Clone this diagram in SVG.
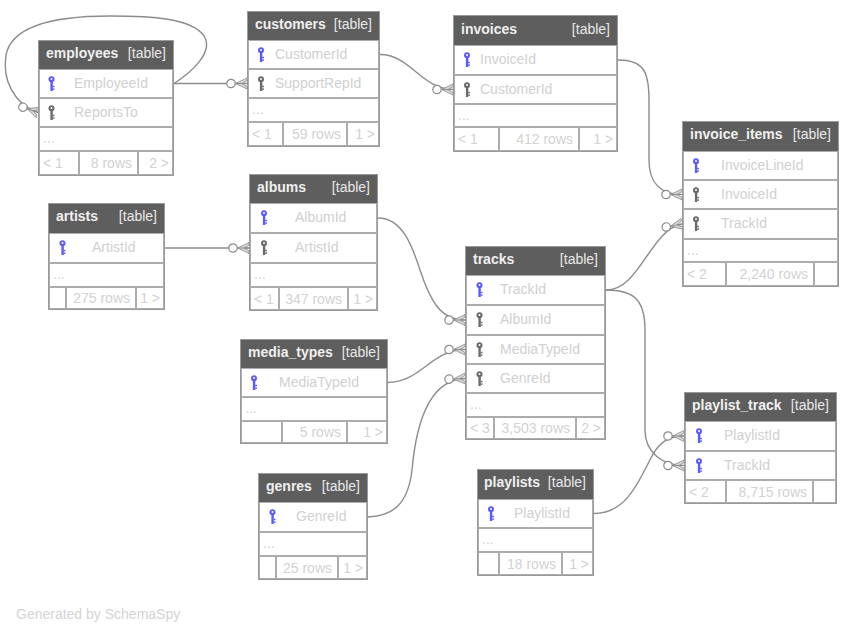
<svg xmlns="http://www.w3.org/2000/svg" xmlns:xlink="http://www.w3.org/1999/xlink" width="856" height="635" viewBox="0 0 856 635">
<style>
text{font-family:"Liberation Sans",Arial,Helvetica,sans-serif;font-size:14px}
.frame{fill:#fff;stroke:#9a9a9a;stroke-width:1}
.hdr{fill:#5e5e5e}
.cell{fill:none;stroke:#acacac;stroke-width:1}
.ttl{font-weight:bold;fill:#f0f0f0}
.tag{fill:#e8e8e8;text-anchor:end}
.fld{fill:#d0d0d0}
.ft{fill:#d2d2d2}
.end{text-anchor:end}
.pk{color:#5a5aff}
.fk{color:#6a6a6a}
.edge{fill:none;stroke:#8c8c8c;stroke-width:1.4}
.gen{fill:#d4d4d4}
</style>
<defs>
<g id="key">
<circle cx="0" cy="3.2" r="3" fill="currentColor"/>
<circle cx="0" cy="3" r="1" fill="#fff"/>
<rect x="-1.1" y="5.5" width="2.4" height="9.5" fill="currentColor"/>
<rect x="1.2" y="9.8" width="1.8" height="1.4" fill="currentColor"/>
<rect x="1.2" y="12.4" width="1.8" height="1.4" fill="currentColor"/>
</g>
<marker id="crow" markerUnits="userSpaceOnUse" orient="auto" refX="0" refY="0" markerWidth="30" markerHeight="16" overflow="visible">
<path d="M-11.5,0 L0,-5.5 L0,-3 L-5,0 L0,3 L0,5.5 Z" fill="#d6d6d6" stroke="#8c8c8c" stroke-width="0.8"/>
<path d="M-11.5,0 L0,0" stroke="#8c8c8c" stroke-width="1"/>
<circle cx="-16" cy="0" r="4.2" fill="#fff" stroke="#8c8c8c" stroke-width="1.2"/>
</marker>
</defs>
<rect width="856" height="635" fill="#fff"/>

<g id="connectors">
<path class="edge" marker-end="url(#crow)" d="M174,83.5 C192,72 214,52 204,36 C192,18 150,16 110,16 C60,16 12,24 6,55 C2,80 14,104 38,112.5"/>
<path class="edge" marker-end="url(#crow)" d="M174,83.5 L247,83.5"/>
<path class="edge" marker-end="url(#crow)" d="M380,54.5 C410,54.5 422,89.5 453,89.5"/>
<path class="edge" marker-end="url(#crow)" d="M618,60 C644,60 649,72 649,100 L649,160 C649,182 660,194.5 682,194.5"/>
<path class="edge" marker-end="url(#crow)" d="M606,290 C640,290 650,230 682,224"/>
<path class="edge" marker-end="url(#crow)" d="M606,290 C634,290 645,300 645,330 L645,430 C645,452 662,465.5 684,465.5"/>
<path class="edge" marker-end="url(#crow)" d="M594,513.5 C628,513.5 640,478 652,456 C659,443 668,436 684,436"/>
<path class="edge" marker-end="url(#crow)" d="M378,218 C402,218 412,245 420,270 C430,300 440,320 465,320"/>
<path class="edge" marker-end="url(#crow)" d="M388,382.5 C420,382.5 432,349.5 465,349.5"/>
<path class="edge" marker-end="url(#crow)" d="M368,517 C392,516 408,505 412,470 C416,425 428,380 465,378.5"/>
<path class="edge" marker-end="url(#crow)" d="M165,248 L249,248"/>
</g>

<g id="employees">
<rect class="frame" x="38.5" y="40.5" width="135" height="135"/>
<rect class="hdr" x="39" y="41" width="134" height="28"/>
<rect class="cell" x="39.5" y="69.5" width="133" height="28"/>
<rect class="cell" x="39.5" y="98.5" width="133" height="28"/>
<rect class="cell" x="39.5" y="127.5" width="133" height="23"/>
<rect class="cell" x="39.5" y="151.5" width="39" height="23"/>
<rect class="cell" x="79.5" y="151.5" width="58" height="23"/>
<rect class="cell" x="138.5" y="151.5" width="34" height="23"/>
<text class="ttl" x="46" y="58">employees</text>
<text class="tag" x="166" y="58">[table]</text>
<use href="#key" class="pk" x="51.5" y="76"/>
<text class="fld" x="74" y="88">EmployeeId</text>
<use href="#key" class="fk" x="51.5" y="105"/>
<text class="fld" x="74" y="117">ReportsTo</text>
<text class="ft" x="43" y="143">...</text>
<text class="ft" x="43" y="168">&lt; 1</text>
<text class="ft end" x="132" y="168">8 rows</text>
<text class="ft end" x="169" y="168">2 &gt;</text>
</g>

<g id="customers">
<rect class="frame" x="247.5" y="11.5" width="132" height="135"/>
<rect class="hdr" x="248" y="12" width="131" height="28"/>
<rect class="cell" x="248.5" y="40.5" width="130" height="28"/>
<rect class="cell" x="248.5" y="69.5" width="130" height="28"/>
<rect class="cell" x="248.5" y="98.5" width="130" height="23"/>
<rect class="cell" x="248.5" y="122.5" width="34" height="23"/>
<rect class="cell" x="283.5" y="122.5" width="63" height="23"/>
<rect class="cell" x="347.5" y="122.5" width="31" height="23"/>
<text class="ttl" x="255" y="29">customers</text>
<text class="tag" x="372" y="29">[table]</text>
<use href="#key" class="pk" x="261" y="47"/>
<text class="fld" x="275" y="59">CustomerId</text>
<use href="#key" class="fk" x="261" y="76"/>
<text class="fld" x="275" y="88">SupportRepId</text>
<text class="ft" x="252" y="114">...</text>
<text class="ft" x="252" y="139">&lt; 1</text>
<text class="ft end" x="341" y="139">59 rows</text>
<text class="ft end" x="375" y="139">1 &gt;</text>
</g>

<g id="invoices">
<rect class="frame" x="453.5" y="15.5" width="164" height="136"/>
<rect class="hdr" x="454" y="16" width="163" height="29"/>
<rect class="cell" x="454.5" y="45.5" width="162" height="29"/>
<rect class="cell" x="454.5" y="75.5" width="162" height="28"/>
<rect class="cell" x="454.5" y="104.5" width="162" height="22"/>
<rect class="cell" x="454.5" y="127.5" width="44" height="23"/>
<rect class="cell" x="499.5" y="127.5" width="79" height="23"/>
<rect class="cell" x="579.5" y="127.5" width="37" height="23"/>
<text class="ttl" x="461" y="34">invoices</text>
<text class="tag" x="610" y="34">[table]</text>
<use href="#key" class="pk" x="467" y="52"/>
<text class="fld" x="480" y="64">InvoiceId</text>
<use href="#key" class="fk" x="467" y="82"/>
<text class="fld" x="480" y="94">CustomerId</text>
<text class="ft" x="458" y="120">...</text>
<text class="ft" x="458" y="144">&lt; 1</text>
<text class="ft end" x="573" y="144">412 rows</text>
<text class="ft end" x="613" y="144">1 &gt;</text>
</g>

<g id="invoice_items">
<rect class="frame" x="682.5" y="121.5" width="156" height="165"/>
<rect class="hdr" x="683" y="122" width="155" height="29"/>
<rect class="cell" x="683.5" y="151.5" width="154" height="28"/>
<rect class="cell" x="683.5" y="180.5" width="154" height="28"/>
<rect class="cell" x="683.5" y="209.5" width="154" height="29"/>
<rect class="cell" x="683.5" y="239.5" width="154" height="22"/>
<rect class="cell" x="683.5" y="262.5" width="42" height="23"/>
<rect class="cell" x="726.5" y="262.5" width="87" height="23"/>
<rect class="cell" x="814.5" y="262.5" width="23" height="23"/>
<text class="ttl" x="690" y="139">invoice_items</text>
<text class="tag" x="831" y="139">[table]</text>
<use href="#key" class="pk" x="696" y="158"/>
<text class="fld" x="721" y="170">InvoiceLineId</text>
<use href="#key" class="fk" x="696" y="187"/>
<text class="fld" x="721" y="199">InvoiceId</text>
<use href="#key" class="fk" x="696" y="216"/>
<text class="fld" x="721" y="228">TrackId</text>
<text class="ft" x="687" y="255">...</text>
<text class="ft" x="687" y="279">&lt; 2</text>
<text class="ft end" x="808" y="279">2,240 rows</text>
</g>

<g id="artists">
<rect class="frame" x="48.5" y="203.5" width="116" height="106"/>
<rect class="hdr" x="49" y="204" width="115" height="29"/>
<rect class="cell" x="49.5" y="233.5" width="114" height="29"/>
<rect class="cell" x="49.5" y="263.5" width="114" height="23"/>
<rect class="cell" x="49.5" y="287.5" width="16" height="21"/>
<rect class="cell" x="66.5" y="287.5" width="69" height="21"/>
<rect class="cell" x="136.5" y="287.5" width="27" height="21"/>
<text class="ttl" x="56" y="221">artists</text>
<text class="tag" x="157" y="221">[table]</text>
<use href="#key" class="pk" x="62.5" y="240"/>
<text class="fld" x="92" y="252">ArtistId</text>
<text class="ft" x="53" y="279">...</text>
<text class="ft end" x="130" y="303">275 rows</text>
<text class="ft end" x="160" y="303">1 &gt;</text>
</g>

<g id="albums">
<rect class="frame" x="249.5" y="174.5" width="128" height="136"/>
<rect class="hdr" x="250" y="175" width="127" height="28"/>
<rect class="cell" x="250.5" y="203.5" width="126" height="29"/>
<rect class="cell" x="250.5" y="233.5" width="126" height="29"/>
<rect class="cell" x="250.5" y="263.5" width="126" height="23"/>
<rect class="cell" x="250.5" y="287.5" width="28" height="22"/>
<rect class="cell" x="279.5" y="287.5" width="68" height="22"/>
<rect class="cell" x="348.5" y="287.5" width="28" height="22"/>
<text class="ttl" x="257" y="192">albums</text>
<text class="tag" x="370" y="192">[table]</text>
<use href="#key" class="pk" x="264" y="210"/>
<text class="fld" x="295" y="222">AlbumId</text>
<use href="#key" class="fk" x="264" y="240"/>
<text class="fld" x="295" y="252">ArtistId</text>
<text class="ft" x="254" y="279">...</text>
<text class="ft" x="254" y="304">&lt; 1</text>
<text class="ft end" x="342" y="304">347 rows</text>
<text class="ft end" x="373" y="304">1 &gt;</text>
</g>

<g id="tracks">
<rect class="frame" x="465.5" y="246.5" width="140" height="193"/>
<rect class="hdr" x="466" y="247" width="139" height="28"/>
<rect class="cell" x="466.5" y="275.5" width="138" height="29"/>
<rect class="cell" x="466.5" y="305.5" width="138" height="29"/>
<rect class="cell" x="466.5" y="335.5" width="138" height="28"/>
<rect class="cell" x="466.5" y="364.5" width="138" height="28"/>
<rect class="cell" x="466.5" y="393.5" width="138" height="23"/>
<rect class="cell" x="466.5" y="417.5" width="27" height="21"/>
<rect class="cell" x="494.5" y="417.5" width="81" height="21"/>
<rect class="cell" x="576.5" y="417.5" width="28" height="21"/>
<text class="ttl" x="473" y="264">tracks</text>
<text class="tag" x="598" y="264">[table]</text>
<use href="#key" class="pk" x="479.5" y="282"/>
<text class="fld" x="500" y="294">TrackId</text>
<use href="#key" class="fk" x="479.5" y="312"/>
<text class="fld" x="500" y="324">AlbumId</text>
<use href="#key" class="fk" x="479.5" y="342"/>
<text class="fld" x="500" y="354">MediaTypeId</text>
<use href="#key" class="fk" x="479.5" y="371"/>
<text class="fld" x="500" y="383">GenreId</text>
<text class="ft" x="470" y="409">...</text>
<text class="ft" x="470" y="433">&lt; 3</text>
<text class="ft end" x="570" y="433">3,503 rows</text>
<text class="ft end" x="601" y="433">2 &gt;</text>
</g>

<g id="media_types">
<rect class="frame" x="240.5" y="339.5" width="147" height="104"/>
<rect class="hdr" x="241" y="340" width="146" height="28"/>
<rect class="cell" x="241.5" y="368.5" width="145" height="28"/>
<rect class="cell" x="241.5" y="397.5" width="145" height="23"/>
<rect class="cell" x="241.5" y="421.5" width="40" height="21"/>
<rect class="cell" x="282.5" y="421.5" width="64" height="21"/>
<rect class="cell" x="347.5" y="421.5" width="39" height="21"/>
<text class="ttl" x="248" y="357">media_types</text>
<text class="tag" x="380" y="357">[table]</text>
<use href="#key" class="pk" x="254" y="375"/>
<text class="fld" x="279" y="387">MediaTypeId</text>
<text class="ft" x="245" y="413">...</text>
<text class="ft end" x="341" y="437">5 rows</text>
<text class="ft end" x="383" y="437">1 &gt;</text>
</g>

<g id="genres">
<rect class="frame" x="258.5" y="473.5" width="109" height="106"/>
<rect class="hdr" x="259" y="474" width="108" height="28"/>
<rect class="cell" x="259.5" y="502.5" width="107" height="29"/>
<rect class="cell" x="259.5" y="532.5" width="107" height="23"/>
<rect class="cell" x="259.5" y="556.5" width="16" height="22"/>
<rect class="cell" x="276.5" y="556.5" width="61" height="22"/>
<rect class="cell" x="338.5" y="556.5" width="28" height="22"/>
<text class="ttl" x="266" y="491">genres</text>
<text class="tag" x="360" y="491">[table]</text>
<use href="#key" class="pk" x="272.5" y="509"/>
<text class="fld" x="296" y="521">GenreId</text>
<text class="ft" x="263" y="548">...</text>
<text class="ft end" x="332" y="573">25 rows</text>
<text class="ft end" x="363" y="573">1 &gt;</text>
</g>

<g id="playlists">
<rect class="frame" x="477.5" y="469.5" width="116" height="106"/>
<rect class="hdr" x="478" y="470" width="115" height="29"/>
<rect class="cell" x="478.5" y="499.5" width="114" height="28"/>
<rect class="cell" x="478.5" y="528.5" width="114" height="23"/>
<rect class="cell" x="478.5" y="552.5" width="20" height="22"/>
<rect class="cell" x="499.5" y="552.5" width="62" height="22"/>
<rect class="cell" x="562.5" y="552.5" width="30" height="22"/>
<text class="ttl" x="484" y="487">playlists</text>
<text class="tag" x="586" y="487">[table]</text>
<use href="#key" class="pk" x="491" y="506"/>
<text class="fld" x="514" y="518">PlaylistId</text>
<text class="ft" x="482" y="544">...</text>
<text class="ft end" x="556" y="569">18 rows</text>
<text class="ft end" x="589" y="569">1 &gt;</text>
</g>

<g id="playlist_track">
<rect class="frame" x="684.5" y="392.5" width="152" height="111"/>
<rect class="hdr" x="685" y="393" width="151" height="28"/>
<rect class="cell" x="685.5" y="421.5" width="150" height="29"/>
<rect class="cell" x="685.5" y="451.5" width="150" height="28"/>
<rect class="cell" x="685.5" y="480.5" width="40" height="22"/>
<rect class="cell" x="726.5" y="480.5" width="86" height="22"/>
<rect class="cell" x="813.5" y="480.5" width="22" height="22"/>
<text class="ttl" x="692" y="410">playlist_track</text>
<text class="tag" x="829" y="410">[table]</text>
<use href="#key" class="pk" x="699" y="428"/>
<text class="fld" x="724" y="440">PlaylistId</text>
<use href="#key" class="pk" x="699" y="458"/>
<text class="fld" x="724" y="470">TrackId</text>
<text class="ft" x="689" y="497">&lt; 2</text>
<text class="ft end" x="807" y="497">8,715 rows</text>
</g>

<text class="gen" x="16" y="619">Generated by SchemaSpy</text>
</svg>
